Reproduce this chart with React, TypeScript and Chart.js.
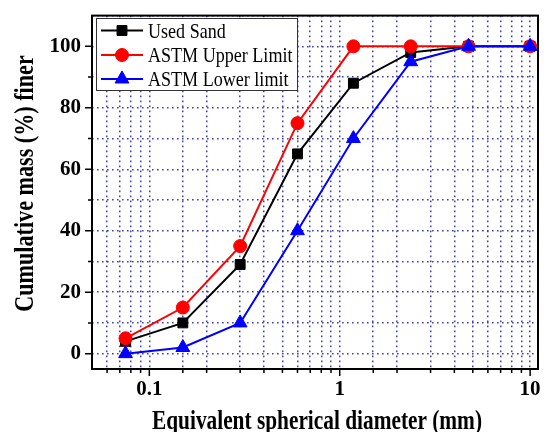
import React, { useEffect, useRef } from "react";
import { Chart, registerables } from "chart.js";

Chart.register(...registerables);

// ---- data ----
const sieveSizes = [0.075, 0.15, 0.3, 0.6, 1.18, 2.36, 4.75, 10];
const usedSand = [4, 10, 29, 65, 88, 98, 100, 100];
const astmUpper = [5, 15, 35, 75, 100, 100, 100, 100];
const astmLower = [0, 2, 10, 40, 70, 95, 100, 100];
const seriesNames = ["Used Sand", "ASTM Upper Limit", "ASTM Lower limit"];
const xTickLabels = [0.1, 1, 10];
const yTickLabels = [0, 20, 40, 60, 80, 100];
const xTitle = "Equivalent spherical diameter (mm)";
const yTitle = "Cumulative mass (%) finer";

// ---- styles ----
const SERIF = '"Liberation Serif", "Times New Roman", Times, serif';
const GRID = "rgba(45,45,180,0.9)";
const COLORS = ["#000000", "#ff0000", "#0000ff"];
const STYLES = ["rect", "circle", "triangle"];
const RADII = [7, 6.5, 8];

const isXLabel = (v: number) => xTickLabels.some((t) => Math.abs(t - v) < t * 1e-6);

function drawText(
  ctx: CanvasRenderingContext2D,
  text: string,
  x: number,
  y: number,
  font: string,
  sx: number,
  align: CanvasTextAlign,
  baseline: CanvasTextBaseline,
  angle = 0
) {
  ctx.save();
  ctx.translate(x, y);
  if (angle) ctx.rotate(angle);
  ctx.scale(sx, 1);
  ctx.font = font;
  ctx.textAlign = align;
  ctx.textBaseline = baseline;
  ctx.fillStyle = "#000";
  ctx.fillText(text, 0, 0);
  ctx.restore();
}

function drawMarker(ctx: CanvasRenderingContext2D, style: string, x: number, y: number, r: number, color: string) {
  ctx.save();
  ctx.fillStyle = color;
  ctx.strokeStyle = color;
  ctx.lineWidth = 1;
  ctx.beginPath();
  if (style === "rect") {
    const s = r * Math.SQRT1_2;
    ctx.rect(x - s, y - s, 2 * s, 2 * s);
  } else if (style === "circle") {
    ctx.arc(x, y, r, 0, Math.PI * 2);
  } else {
    ctx.moveTo(x, y - r);
    ctx.lineTo(x + r * Math.sin((2 * Math.PI) / 3), y - r * Math.cos((2 * Math.PI) / 3));
    ctx.lineTo(x + r * Math.sin((4 * Math.PI) / 3), y - r * Math.cos((4 * Math.PI) / 3));
    ctx.closePath();
  }
  ctx.fill();
  ctx.stroke();
  ctx.restore();
}

const decorPlugin = {
  id: "decor",
  afterDraw(chart: any) {
    const { ctx, chartArea: a, scales } = chart;
    const xs = scales.x;
    const ys = scales.y;
    ctx.save();
    // tick marks
    ctx.strokeStyle = "#000";
    ctx.lineWidth = 1.5;
    ctx.beginPath();
    xs.ticks.forEach((t: any) => {
      const px = xs.getPixelForValue(t.value);
      if (px <= a.left + 1 || px >= a.right - 1) return;
      const len = isXLabel(t.value) ? 7 : 4;
      ctx.moveTo(px, a.bottom);
      ctx.lineTo(px, a.bottom + len);
    });
    ys.ticks.forEach((t: any) => {
      const py = ys.getPixelForValue(t.value);
      if (py <= a.top + 1 || py >= a.bottom - 1) return;
      const len = yTickLabels.includes(t.value) ? 7 : 4;
      ctx.moveTo(a.left, py);
      ctx.lineTo(a.left - len, py);
    });
    ctx.stroke();
    // frame
    ctx.lineWidth = 2;
    ctx.strokeRect(a.left, a.top, a.right - a.left, a.bottom - a.top);

    // axis titles
    const bold = `bold 27px ${SERIF}`;
    drawText(ctx, xTitle, (a.left + a.right) / 2 + 2, 429, bold, 0.79, "center", "alphabetic");
    drawText(ctx, yTitle, 33, 183.5, bold, 0.82, "center", "alphabetic", -Math.PI / 2);

    // legend
    const lx = 96, ly = 18, lw = 201, lh = 72;
    ctx.fillStyle = "#fff";
    ctx.fillRect(lx, ly, lw, lh);
    ctx.strokeStyle = "#333";
    ctx.lineWidth = 1;
    ctx.strokeRect(lx + 0.5, ly + 0.5, lw, lh);
    const rows = [30.5, 55, 79];
    seriesNames.forEach((name, i) => {
      const cy = rows[i];
      ctx.strokeStyle = COLORS[i];
      ctx.lineWidth = 2;
      ctx.beginPath();
      ctx.moveTo(101, cy);
      ctx.lineTo(143, cy);
      ctx.stroke();
      drawMarker(ctx, STYLES[i], 122, cy, RADII[i], COLORS[i]);
      drawText(ctx, name, 148, cy + 7, `21px ${SERIF}`, 0.86, "left", "alphabetic");
    });
    ctx.restore();
  },
};

export default function App() {
  const ref = useRef<HTMLCanvasElement>(null);
  useEffect(() => {
    const series = [usedSand, astmUpper, astmLower];
    const chart = new Chart(ref.current!, {
      type: "line",
      data: {
        datasets: series.map((vals, i) => ({
          label: seriesNames[i],
          data: sieveSizes.map((x, j) => ({ x, y: vals[j] })),
          borderColor: COLORS[i],
          backgroundColor: COLORS[i],
          pointBackgroundColor: COLORS[i],
          pointBorderColor: COLORS[i],
          pointStyle: STYLES[i] as any,
          pointRadius: RADII[i],
          pointBorderWidth: 1,
          borderWidth: 2,
          tension: 0,
          order: 3 - i,
        })),
      },
      options: {
        responsive: false,
        animation: false,
        devicePixelRatio: 1,
        layout: { padding: { top: 13, right: 9, left: 0, bottom: 0 } },
        plugins: { legend: { display: false }, tooltip: { enabled: false } },
        scales: {
          x: {
            type: "logarithmic",
            position: "bottom",
            min: 0.05,
            max: 11,
            grid: { color: GRID, lineWidth: 1.5, tickLength: 8, tickColor: "transparent" },
            border: { display: false, dash: [1.6, 3.4] },
            ticks: {
              autoSkip: false,
              maxRotation: 0,
              minRotation: 0,
              padding: 0,
              color: "#000",
              font: { family: SERIF, size: 21, weight: "bold" },
              callback: (v: any) => (isXLabel(Number(v)) ? String(Number(v)) : ""),
            },
            afterFit: (s: any) => {
              s.height = 63;
            },
          },
          y: {
            type: "linear",
            min: -5,
            max: 110,
            grid: { color: GRID, lineWidth: 1.5, tickLength: 8, tickColor: "transparent" },
            border: { display: false, dash: [1.6, 3.4] },
            ticks: {
              stepSize: 10,
              includeBounds: false,
              autoSkip: false,
              padding: 3,
              color: "#000",
              font: { family: SERIF, size: 21, weight: "bold" },
              callback: (v: any) => (yTickLabels.includes(Number(v)) ? String(v) : ""),
            },
            afterFit: (s: any) => {
              s.width = 92;
            },
          },
        },
      },
      plugins: [decorPlugin],
    });
    return () => chart.destroy();
  }, []);
  return (
    <div style={{ position: "absolute", left: 0, top: 0, width: 547, height: 432, background: "#fff" }}>
      <canvas ref={ref} width={547} height={432} style={{ display: "block", width: 547, height: 432 }} />
    </div>
  );
}
